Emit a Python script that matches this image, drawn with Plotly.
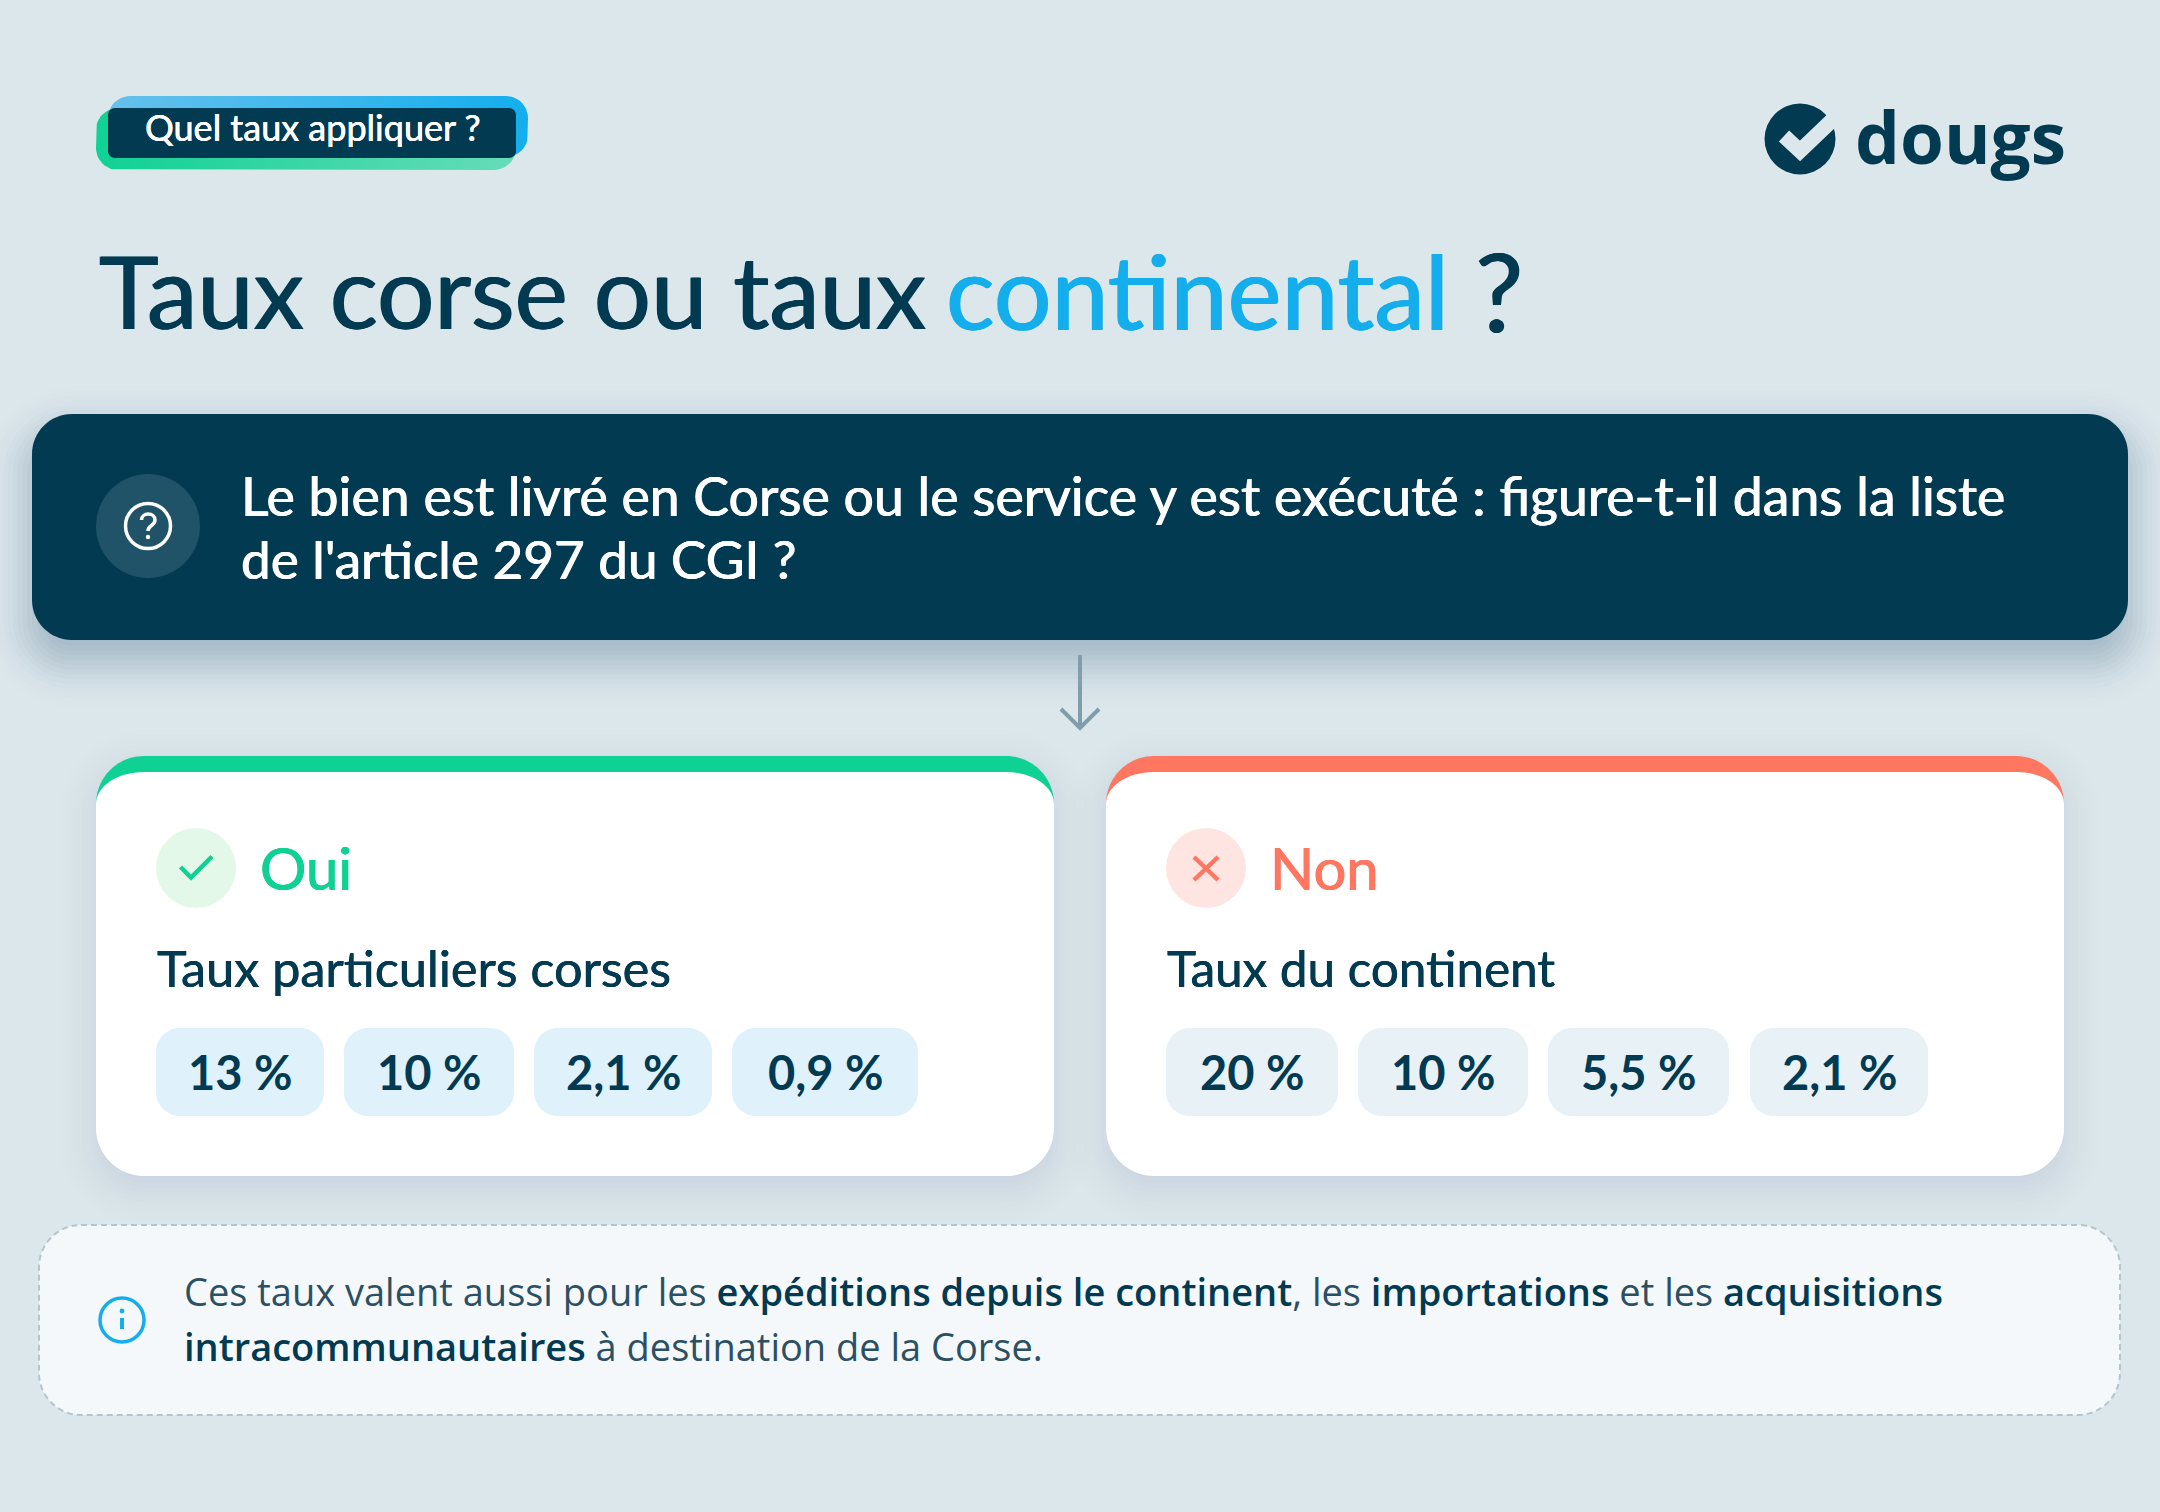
import math
import plotly.graph_objects as go

# ---- content ----
badge_text = "Quel taux appliquer ?"
title_parts = ["Taux corse ou taux", "continental", "?"]
brand = "dougs"
question_lines = ["Le bien est livré en Corse ou le service y est exécuté : figure-t-il dans la liste",
                  "de l'article 297 du CGI ?"]
yes_label = "Oui"
no_label = "Non"
yes_sub = "Taux particuliers corses"
no_sub = "Taux du continent"
yes_rates = ["13 %", "10 %", "2,1 %", "0,9 %"]
no_rates = ["20 %", "10 %", "5,5 %", "2,1 %"]
NAVY = "#023a52"
S = f'<span style="font-weight:600;color:{NAVY}">'
E = "</span>"
note_lines = [f"Ces taux valent aussi pour les {S}expéditions depuis le continent{E}, les {S}importations{E} et les {S}acquisitions{E}",
              f"{S}intracommunautaires{E} à destination de la Corse."]

# ---- styles ----
BG = "#dce7ec"
BLUE = "#14aeec"
GREEN = "#10d194"
RED = "#ff7661"
HEAD = "Lato"
BODY = "Open Sans"
K = 0.5523

shapes, annots = [], []


def rr(x0, y0, x1, y1, r):
    c = r * (1 - K)
    return (f"M{x0+r},{y0} L{x1-r},{y0} C{x1-c},{y0} {x1},{y0+c} {x1},{y0+r} "
            f"L{x1},{y1-r} C{x1},{y1-c} {x1-c},{y1} {x1-r},{y1} "
            f"L{x0+r},{y1} C{x0+c},{y1} {x0},{y1-c} {x0},{y1-r} "
            f"L{x0},{y0+r} C{x0},{y0+c} {x0+c},{y0} {x0+r},{y0} Z")


def rr_pts(x0, y0, x1, y1, r, n=12):
    xs, ys = [], []
    for cx, cy, a0 in [(x1-r, y0+r, -90), (x1-r, y1-r, 0), (x0+r, y1-r, 90), (x0+r, y0+r, 180)]:
        for i in range(n + 1):
            a = math.radians(a0 + 90 * i / n)
            xs.append(cx + r * math.cos(a))
            ys.append(cy + r * math.sin(a))
    xs.append(xs[0]); ys.append(ys[0])
    return xs, ys


def add_path(path, fill=None, line=None, width=0, dash=None):
    ln = dict(width=width)
    if line:
        ln["color"] = line
    if dash:
        ln["dash"] = dash
    s = dict(type="path", xref="x", yref="y", path=path, line=ln, layer="above")
    if fill:
        s["fillcolor"] = fill
    shapes.append(s)


def fill_rr(x0, y0, x1, y1, r, fill):
    add_path(rr(x0, y0, x1, y1, r), fill=fill)


def circle(cx, cy, r, fill=None, line=None, width=0):
    shapes.append(dict(type="circle", xref="x", yref="y", x0=cx-r, x1=cx+r, y0=cy-r, y1=cy+r,
                       fillcolor=fill if fill else "rgba(0,0,0,0)",
                       line=dict(width=width, color=line if line else "rgba(0,0,0,0)"), layer="above"))


def polyline(pts, color, width):
    p = "M" + " L".join(f"{x},{y}" for x, y in pts)
    add_path(p, line=color, width=width)


def shadow(x0, y0, x1, y1, r, dy, sigma, total, n=21):
    weights = []
    for i in range(n):
        t = -2 + 4 * i / (n - 1)
        weights.append(math.exp(-t * t / 2))
    tw = sum(weights)
    for i in range(n):
        t = 2 - 4 * i / (n - 1)
        s = t * sigma
        a = total * weights[i] / tw
        rad = max(r + s, 4)
        fill_rr(x0 - s, y0 - s + dy, x1 + s, y1 + s + dy, rad, f"rgba(2,58,82,{a:.4f})")


def text(x, y, s, size, color, family=HEAD, anchor="left", weight=None, thick=0):
    f = dict(family=family, size=size, color=color)
    if weight:
        f["weight"] = weight
    if thick:
        f["shadow"] = f"{thick}px 0 0 {color}, -{thick}px 0 0 {color}"
    annots.append(dict(x=x, y=y, xref="x", yref="y", text=s, showarrow=False, xanchor=anchor,
                       yanchor="middle", font=f, borderpad=0, align="left"))


# ---- gradient badge backgrounds (traces sit beneath shapes) ----
fig = go.Figure()
bx, by = rr_pts(108, 96, 528, 157, 22)
fig.add_trace(go.Scatter(x=bx, y=by, mode="lines", fill="toself", line=dict(width=0), hoverinfo="skip",
                         fillgradient=dict(type="horizontal", colorscale=[[0, "#66c1ec"], [1, BLUE]])))
gx, gy = rr_pts(96, 108, 516, 170, 22)
fig.add_trace(go.Scatter(x=gx, y=gy, mode="lines", fill="toself", line=dict(width=0), hoverinfo="skip",
                         fillgradient=dict(type="horizontal", colorscale=[[0, GREEN], [1, "#66dcb8"]])))
fill_rr(108, 108, 516, 158, 7, NAVY)
text(144, 127, badge_text, 36, "#ffffff", thick=0.25)

# ---- logo ----
circle(1800, 139, 35.5, fill=NAVY)
polyline([(1784, 136), (1800, 151), (1848, 105)], BG, 15)
text(1854, 136, brand, 71, NAVY, family="Open Sans", weight=700)

# ---- title ----
text(98, 290, title_parts[0], 101, NAVY, thick=0.8)
text(945, 290, title_parts[1], 102, BLUE, thick=0.8)
text(1474, 290, title_parts[2], 108, NAVY, thick=0.8)

# ---- shadows ----
shadow(32, 414, 2128, 640, 40, 20, 24, 0.30)
CARDS = [(96, 1054), (1106, 2064)]
for cx0, cx1 in CARDS:
    shadow(cx0, 756, cx1, 1176, 48, 12, 24, 0.09)

# ---- question banner ----
fill_rr(32, 414, 2128, 640, 40, NAVY)
circle(148, 526, 52, fill="#205368")
circle(148, 526, 22.5, line="#ffffff", width=3.5)
add_path("M141.5,520 C141.5,512 155,512 155,520 C155,526 148,525 148,531", line="#ffffff", width=3.5)
circle(148, 537, 2.2, fill="#ffffff")
text(240, 495, question_lines[0], 53.6, "#ffffff", thick=0.5)
text(240, 558, question_lines[1], 53, "#ffffff", thick=0.5)

# ---- arrow ----
polyline([(1080, 655), (1080, 728)], "#7f9dab", 4)
polyline([(1061, 709), (1080, 728), (1099, 709)], "#7f9dab", 4)


# ---- cards ----
def card(x0, x1, accent):
    y0, y1, r = 756, 1176, 48
    fill_rr(x0, y0, x1, y1 - 200, r, accent)
    ty, ry = 772, 32
    c = r * (1 - K)
    p = (f"M{x0+r},{ty} L{x1-r},{ty} C{x1-c},{ty} {x1},{ty+ry*(1-K)} {x1},{ty+ry} "
         f"L{x1},{y1-r} C{x1},{y1-c} {x1-c},{y1} {x1-r},{y1} "
         f"L{x0+r},{y1} C{x0+c},{y1} {x0},{y1-c} {x0},{y1-r} "
         f"L{x0},{ty+ry} C{x0},{ty+ry*(1-K)} {x0+c},{ty} {x0+r},{ty} Z")
    add_path(p, fill="#ffffff")


card(CARDS[0][0], CARDS[0][1], GREEN)
card(CARDS[1][0], CARDS[1][1], RED)

circle(196, 868, 40, fill="#e3f8e8")
polyline([(180.5, 867), (191, 877.5), (212, 856.5)], GREEN, 4.5)
text(259, 867, yes_label, 58, GREEN, thick=0.5)
text(156, 967.5, yes_sub, 50.4, NAVY, thick=0.35)

circle(1206, 868, 40, fill="#fee5e1")
polyline([(1194, 857), (1218, 880)], RED, 4.5)
polyline([(1218, 857), (1194, 880)], RED, 4.5)
text(1269, 867, no_label, 58, RED, thick=0.5)
text(1166, 967.5, no_sub, 49.4, NAVY, thick=0.35)

YES_PILLS = [(156, 324), (344, 514), (534, 712), (732, 918)]
NO_PILLS = [(1166, 1338), (1358, 1528), (1548, 1729), (1750, 1928)]
for labels, pills, col in [(yes_rates, YES_PILLS, "#dff1fb"), (no_rates, NO_PILLS, "#e8f1f6")]:
    for lab, (a, b) in zip(labels, pills):
        fill_rr(a, 1028, b, 1116, 24, col)
        text((a + b) / 2, 1072, lab, 47, NAVY, anchor="center", weight=700)

# ---- note ----
add_path(rr(39, 1225, 2120, 1415, 42), fill="#f5f8fa", line="#b5c5cd", width=2, dash="6px,4px")
circle(122, 1320, 22, line=BLUE, width=3.5)
circle(122, 1311, 2.4, fill=BLUE)
polyline([(122, 1318), (122, 1329)], BLUE, 4)
for yy, line in zip((1291, 1345.5), note_lines):
    text(183, yy, line, 38, "#2c5063", family=BODY)

fig.update_layout(
    width=2160, height=1512, margin=dict(l=0, r=0, t=0, b=0, pad=0),
    paper_bgcolor=BG, plot_bgcolor=BG, showlegend=False,
    xaxis=dict(range=[0, 2160], visible=False, fixedrange=True),
    yaxis=dict(range=[1512, 0], visible=False, fixedrange=True),
    shapes=shapes, annotations=annots,
)
fig.write_html("out.html", config=dict(displayModeBar=False),
               post_script="document.body.style.margin='0';document.body.style.overflow='hidden';")
